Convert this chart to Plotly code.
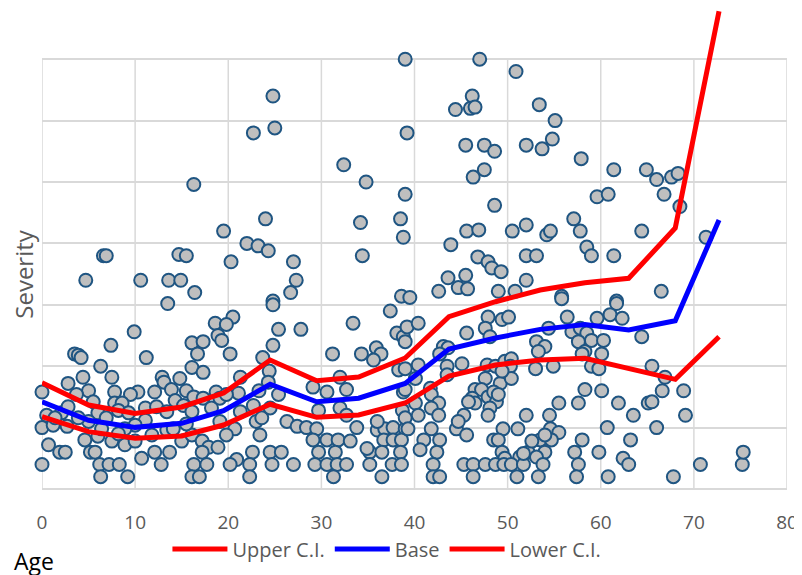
import plotly.graph_objects as go

# Scatter points: (age, severity level)
points = [
(16.3,24.8),(19.5,21),(6.6,19),(6.9,19),(14.7,19.1),(15.5,19),(20.3,18.5),(4.7,17),(10.6,17),(13.6,17),(14.9,17),(16.4,16),(13.5,15.1),
(24.8,32),(22.7,29),(25,29.4),(32.4,26.4),(34.8,25),(39,35),(39.2,29),(39,24),(38.5,22),(38.8,20.5),(38.6,15.7),(34.2,21.7),(34.4,19),(24,22),(22,20),(23.2,19.8),(24.3,19.4),(27,18.5),(27.3,17),(26.7,16),(24.8,15.3),
(47,35),(50.9,34),(46.2,32),(44.4,30.9),(46,31),(46.5,31.1),(53.4,31.3),(55.1,30),(45.5,28),(47.5,28),(48.6,27.5),(52,28),(53.7,27.7),(54.8,28.5),(57.9,26.9),(47.5,26),(46.3,25.4),(59.6,23.8),(48.6,23.1),(57.1,22),(57.8,21),(45.6,21),(46.9,21.1),(50.5,21),(52,21.5),(54.2,20.7),(54.6,21),(43.9,19.9),(58.5,19.7),(59,19),(46.8,18.9),(47.9,18.5),(48.3,18),(49.3,17.7),(52,19),(53.1,19),(43.6,17.2),(45.5,17.4),(44.7,16.4),(45.7,16.3),(52,17),(42.6,16.1),(49,16.1),(50.8,16.1),(55.8,15.7),(39.5,15.6),
(61.4,26),(64.9,26),(66,25.2),(67.6,25.4),(68.3,25.7),(60.8,24),(66.8,24),(68.5,23),(64.4,21),(71.3,20.5),(61.4,19),(66.5,16.1),(61.7,15.3),
(18.6,13.5),(18.9,12.5),(19.3,12.1),(9.9,12.8),(7.4,11.7),(16.1,11.9),(17.3,12),(16.7,11),(3.5,11),(3.9,10.9),(4.2,10.7),(11.2,10.7),(6.3,10),(16.1,9.9),(17.3,9.5),(4.4,9.1),(7.5,9.1),(2.8,8.6),(5,8),(7.8,7.9),(0,7.9),(12.9,9.1),(13.1,8.7),(13.9,8.1),(12.1,7.9),(10.3,7.9),(9.5,7.7),(14.8,9),(15.5,8),(16.3,7.5),(18.7,7.9),(7.8,7),(8.6,7),(5.5,7.1),(3.7,7.7),(0.5,6),(2.1,6.2),(0,5),(1.2,5.2),(2.7,5.1),(4.6,4),(6,4.3),(7.5,3.9),(8.9,3.6),(10,3.9),(11.8,4.4),(13.4,4.8),(15,3.9),(16.1,4.4),(17.2,3.9),(17.9,3.4),(18.9,3.4),(0.7,3.6),(1.9,3),(2.5,3),(5.2,3),(5.7,3),(10.7,2.5),(12.1,3),(13.7,3),(17.2,3),(0,2),(6.2,2),(7.2,2),(8.3,2),(12.8,2),(16.3,2),(17.7,2),(6.3,1),(9.2,1),(16.1,1),(16.9,1),
(6.0,6.2),(6.9,5.8),(8.2,6.4),(9.3,6.2),(11.1,6.6),(12.3,6.7),(13.4,6.3),(14.3,7.2),(15.2,6.8),(16.1,6.3),(17.3,7.4),(18.2,6.6),(19.1,7.4),(14.1,4.9),(15.5,5.3),(11.1,5.6),(10.0,5.2),(8.9,4.9),(8.2,4.5),(6.4,4.9),(5.0,5.5),(3.9,5.8),(1.4,5.8),(2.8,6.7),
(24.8,15),(20.5,14),(19.8,13.4),(20.2,11),(25.4,13),(27.8,13),(24.8,11.7),(23.7,10.7),(24.4,9.6),(24.3,8.7),(25.4,7.7),(26.3,5.5),(21.3,9.1),(21.1,7.8),(19.8,7.7),(19.1,5.5),(23.3,8),(23,5.5),(23.6,5.8),(20.7,4.9),(19.8,4.4),(33.4,13.5),(31.2,11),(34.3,11),(35.9,11.5),(36.4,11),(35.6,10.5),(37.4,14.5),(38.1,12.7),(38.8,12.4),(39.2,13.2),(38.3,9.7),(38.8,7.9),(38.7,6.4),(29.1,8.3),(30.6,7.9),(32,9.1),(32.7,8.1),(29.7,6.4),(32,6.6),(32.7,6),(27.4,5.1),(28.4,5),(29.5,4.9),(33.8,5),(36,4.8),(36.8,4.9),(37.7,5),(39,4.9),(29.1,4),(30.6,4),(31.8,4),(33.1,3.9),(36.7,4),(37.7,4),(38.6,4),(29.7,3),(31.5,3),(35.2,3),(36.5,3),(38.5,3),(22.6,3),(24.5,3),(25.7,3),(20.9,2.4),(22.3,2),(20.2,2),(24.7,2),(27,2),(29.3,2),(30.6,2),(31.7,2),(32.7,2),(35.2,2),(37.6,2),(38.6,2),(22.3,1),(31.3,1),(36.5,1),
(22.7,6.8),(21.3,6.3),(24.5,6.6),(23.4,4.4),(34.9,3.3),(36,5.5),(39,5.8),
(55.8,15.5),(47.9,14),(49.4,13.8),(50.1,14),(40.4,13.5),(39,12),(45.6,12.7),(47.6,13.1),(48.1,12.4),(56.4,14),(56.9,12.8),(57.8,13.1),(58.5,12.7),(57.6,12),(58.3,11.2),(59,12.1),(53.1,12),(54,11.6),(53.3,11.2),(54.4,13.1),(43.1,11.6),(43.6,11.5),(42.7,11),(43.5,10),(45.1,10.2),(40.4,10.1),(39,9.8),(40.1,9),(47.8,10.1),(48.7,10),(49.7,10.4),(50.4,10.6),(50.3,10),(53,9.8),(54.9,10),(58,11),(59,10),(59.8,9.8),(47.6,9),(49.2,8.6),(50.4,9),(49.4,9.6),(41.7,8.2),(41.8,7.7),(42.6,7),(41.8,6.6),(46.5,8.1),(47.2,8.1),(46.2,7.4),(46.5,7),(47.9,7.5),(48.5,7.9),(48.8,7.1),(48.1,6.6),(45.8,7.1),(45.3,6),(39,8.1),(40.1,7),(40.4,6),(42.6,6),(55.5,7),(57.6,7),(58.3,8.1),(47.9,6),(52,6),(54.5,6),(39.3,4.9),(41.8,4.9),(44.5,4.9),(45.6,4.4),(49.5,4.9),(51.1,4.9),(54.6,4.9),(55.5,4.6),(41,4),(42.7,4),(48.5,4),(49,4),(53.5,4),(54.7,4),(58,4),(40.6,3.2),(42.4,3),(49.4,3),(52.2,3),(54,3),(57.2,3),(49.7,2.5),(51.3,2.6),(53.1,2.6),(42,2),(45.3,2),(46.3,2),(47.6,2),(48.7,2),(49.6,2),(50.4,2),(51.7,2),(53.8,2),(57.6,2),(42,1),(42.7,1),(46.3,1),(51,1),(53.3,1),(57.4,1),
(43.5,9.3),(44.7,5.5),(49.0,7.7),(52.6,3.9),(51.7,2.9),(54.0,4.4),
(61.7,15.1),(61,14.2),(62.3,13.9),(59.6,13.9),(60.3,12.1),(60.1,11),(64.4,12.4),(65.5,10),(66.9,9.1),(60.1,8),(61.9,7),(63.5,6),(65.1,7),(65.5,7.1),(66.6,8),(68.9,8),(69.1,6),(60.7,5),(66,5),(63.2,4),(59.8,3),(62.4,2.5),(63,2),(70.7,2),(75.2,2),(75.3,3),(60.8,1),(67.8,1),
]
ages = [p[0] for p in points]
severity = [p[1] for p in points]

# Fitted lines
line_ages = [0, 5, 10, 15, 19.5, 24.5, 29.5, 34, 39, 43.7, 48.7, 53.5, 58.3, 63, 68, 72.7]
upper_ci = [8.66, 6.84, 6.16, 6.68, 7.82, 10.5, 8.82, 9.12, 10.67, 14.03, 15.25, 16.2, 16.8, 17.16, 21.25, 38.9]
base = [7.1, 5.6, 5.02, 5.35, 6.38, 8.53, 7.1, 7.39, 8.6, 11.4, 12.3, 13.0, 13.4, 12.95, 13.7, 21.9]
lower_ci = [5.89, 4.67, 4.13, 4.32, 5.21, 6.9, 5.84, 6.03, 7.0, 9.2, 10.1, 10.5, 10.64, 9.83, 8.93, 12.4]

x_ticks = [0, 10, 20, 30, 40, 50, 60, 70, 80]
y_ticks = [0, 5, 10, 15, 20, 25, 30, 35]

GRID = "#d9d9d9"
TXT = "#595959"

fig = go.Figure()
fig.add_trace(go.Scatter(
    x=ages, y=severity, mode="markers", showlegend=False, cliponaxis=False,
    marker=dict(size=13, color="#bfbfbf", line=dict(color="#1f5582", width=2)),
    hoverinfo="skip"))
fig.add_trace(go.Scatter(x=line_ages, y=upper_ci, mode="lines", name="Upper C.I.",
                         line=dict(color="#ff0000", width=5)))
fig.add_trace(go.Scatter(x=line_ages, y=base, mode="lines", name="Base",
                         line=dict(color="#0000ff", width=5)))
fig.add_trace(go.Scatter(x=line_ages, y=lower_ci, mode="lines", name="Lower C.I.",
                         line=dict(color="#ff0000", width=5)))

for t in x_ticks:
    fig.add_shape(type="line", xref="x", yref="y", x0=t, x1=t, y0=y_ticks[0], y1=y_ticks[-1],
                  line=dict(color=GRID, width=1.5), layer="below")

fig.update_layout(
    width=794, height=567,
    margin=dict(l=34, r=15, t=0, b=86, autoexpand=False),
    paper_bgcolor="white", plot_bgcolor="white",
    font=dict(family="Open Sans", color=TXT, size=19),
    showlegend=True,
    legend=dict(orientation="h", x=0.463, xanchor="center", y=-0.1247, yanchor="middle",
                itemwidth=55,
                font=dict(size=20, color=TXT), bgcolor="rgba(0,0,0,0)"),
    xaxis=dict(range=[0, 80], tickvals=x_ticks, showgrid=False, zeroline=False,
               showline=False, ticks="", tickfont=dict(size=19, color=TXT),
               ticklabelstandoff=20, automargin=False),
    yaxis=dict(range=[0, 39.17], tickvals=y_ticks, showgrid=True, gridcolor=GRID, gridwidth=1.5,
               zeroline=True, zerolinecolor=GRID, zerolinewidth=1.5,
               showticklabels=False, ticks="", showline=False, automargin=False),
)

fig.add_annotation(text="Severity", xref="paper", yref="y", x=-0.026, y=17.5,
                   textangle=-90, showarrow=False, font=dict(size=24, color=TXT),
                   xanchor="center", yanchor="middle")
fig.add_annotation(text="Age", xref="paper", yref="paper", x=-0.0403, y=-0.150,
                   showarrow=False, font=dict(size=23, color="#000000"),
                   xanchor="left", yanchor="middle")

fig.write_html("out.html")
